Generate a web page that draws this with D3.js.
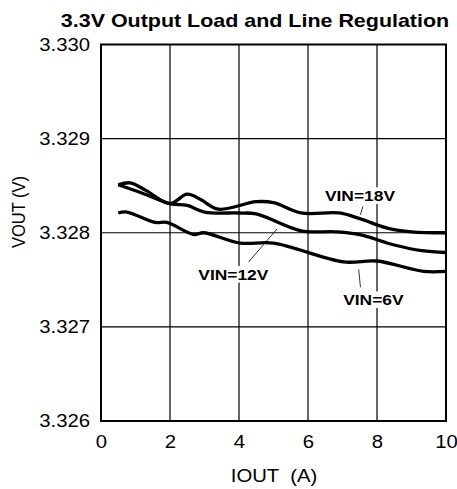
<!DOCTYPE html>
<html>
<head>
<meta charset="utf-8">
<script src="https://cdn.jsdelivr.net/npm/d3@7"></script>
<style>
body { margin: 0; background: #fff; }
svg { display: block; }
</style>
</head>
<body>
<svg id="chart" width="457" height="489"></svg>
<script>
// chart values
var xTicks = [0, 2, 4, 6, 8, 10];
var yTicks = [3.326, 3.327, 3.328, 3.329, 3.330];

var vin18 = [[0.5, 3.32851], [0.85, 3.32853], [1.3, 3.32845], [2.0, 3.32831], [2.5, 3.32841],
    [2.9, 3.32835], [3.4, 3.32825], [4.5, 3.32833], [5.0, 3.32832], [5.8, 3.32821],
    [6.9, 3.32821], [7.5, 3.32815], [8.3, 3.32805], [9.0, 3.32801], [10, 3.32800]];
var vin12 = [[0.5, 3.32851], [1.2, 3.32842], [2.0, 3.32831], [2.5, 3.32829], [3.0, 3.32822],
    [4.0, 3.32821], [4.5, 3.32820], [5.8, 3.32802], [6.8, 3.32801], [7.5, 3.32798],
    [8.5, 3.32787], [9.3, 3.32781], [10, 3.32779]];
var vin6 = [[0.5, 3.32821], [0.75, 3.32822], [1.57, 3.32811], [1.91, 3.32811], [2.69, 3.32798],
    [2.97, 3.32800], [4.04, 3.32789], [5.0, 3.32789], [7.03, 3.32769], [7.99, 3.32770],
    [9.35, 3.32759], [10, 3.32759]];

var labelNames = ["VIN=18V", "VIN=12V", "VIN=6V"];
var labelIout = [6.49, 2.82, 7.02];
var labelVout = [3.328335, 3.32750, 3.32723];
var leaderFrom = [[7.59, 3.32828], [4.28, 3.32769], [7.47, 3.32761]];
var leaderTo = [[7.52, 3.32819], [5.10, 3.32804], [7.52, 3.32742]];

var sx = 1.16; // text in the picture is a bit stretched horizontally
var font = "'Liberation Sans', Arial, sans-serif";

var svg = d3.select("#chart");
var plotLeft = 101, plotRight = 446, plotTop = 44.5, plotBottom = 421;

var x = d3.scaleLinear().domain([0, 10]).range([plotLeft, plotRight]);
var y = d3.scaleLinear().domain([3.326, 3.330]).range([plotBottom, plotTop]);

// grid
svg.append("g").selectAll("line")
    .data(xTicks.slice(1, -1))
    .enter().append("line")
    .attr("x1", function (d) { return x(d); })
    .attr("x2", function (d) { return x(d); })
    .attr("y1", plotTop).attr("y2", plotBottom)
    .attr("stroke", "#000").attr("stroke-width", 1.2);
svg.append("g").selectAll("line")
    .data(yTicks.slice(1, -1))
    .enter().append("line")
    .attr("y1", function (d) { return y(d); })
    .attr("y2", function (d) { return y(d); })
    .attr("x1", plotLeft).attr("x2", plotRight)
    .attr("stroke", "#000").attr("stroke-width", 1.2);

svg.append("rect")
    .attr("x", plotLeft).attr("y", plotTop)
    .attr("width", plotRight - plotLeft).attr("height", plotBottom - plotTop)
    .attr("fill", "none").attr("stroke", "#000").attr("stroke-width", 2);

// axes (labels only)
var yAxis = svg.append("g")
    .attr("transform", "translate(" + plotLeft + ",0)")
    .call(d3.axisLeft(y).tickValues(yTicks).tickFormat(d3.format(".3f")).tickSize(0).tickPadding(0));
yAxis.select(".domain").remove();
yAxis.selectAll("text")
    .attr("x", null)
    .attr("transform", "translate(-11,0) scale(" + sx + ",1)")
    .style("font-family", font).style("font-size", "17.5px").attr("fill", "#000");

var xAxis = svg.append("g")
    .attr("transform", "translate(0," + plotBottom + ")")
    .call(d3.axisBottom(x).tickValues(xTicks).tickFormat(d3.format("d")).tickSize(0).tickPadding(0));
xAxis.select(".domain").remove();
xAxis.selectAll("text")
    .attr("y", null)
    .attr("transform", "translate(0,15) scale(" + sx + ",1)")
    .style("font-family", font).style("font-size", "17.5px").attr("fill", "#000");

// curves
var line = d3.line()
    .x(function (d) { return x(d[0]); })
    .y(function (d) { return y(d[1]); })
    .curve(d3.curveCatmullRom.alpha(0.5));

[vin18, vin12, vin6].forEach(function (series) {
    svg.append("path")
        .attr("d", line(series))
        .attr("fill", "none")
        .attr("stroke", "#000")
        .attr("stroke-width", 3.3)
        .attr("stroke-linejoin", "round");
});

// curve labels with white backing
labelNames.forEach(function (name, i) {
    var g = svg.append("g")
        .attr("transform", "translate(" + x(labelIout[i]) + "," + y(labelVout[i]) + ") scale(" + sx + ",1)");
    var t = g.append("text")
        .text(name)
        .style("font-family", font).style("font-size", "15px").style("font-weight", "bold");
    var b = t.node().getBBox();
    g.insert("rect", "text")
        .attr("x", b.x - 2).attr("y", b.y)
        .attr("width", b.width + 4).attr("height", b.height)
        .attr("fill", "#fff");
    svg.append("line")
        .attr("x1", x(leaderFrom[i][0])).attr("y1", y(leaderFrom[i][1]))
        .attr("x2", x(leaderTo[i][0])).attr("y2", y(leaderTo[i][1]))
        .attr("stroke", "#000").attr("stroke-width", 0.8);
});

// titles
svg.append("text")
    .attr("transform", "translate(255,26.5) scale(" + sx + ",1)")
    .attr("text-anchor", "middle")
    .style("font-family", font).style("font-size", "18.5px").style("font-weight", "bold")
    .text("3.3V Output Load and Line Regulation");

svg.append("text")
    .attr("transform", "translate(274,481.5) scale(" + sx + ",1)")
    .attr("text-anchor", "middle")
    .style("font-family", font).style("font-size", "17.5px")
    .style("white-space", "pre")
    .text("IOUT  (A)");

svg.append("text")
    .attr("transform", "translate(25,212) scale(" + sx + ",1) rotate(-90)")
    .attr("text-anchor", "middle")
    .style("font-family", font).style("font-size", "16.5px")
    .text("VOUT (V)");
</script>
</body>
</html>
